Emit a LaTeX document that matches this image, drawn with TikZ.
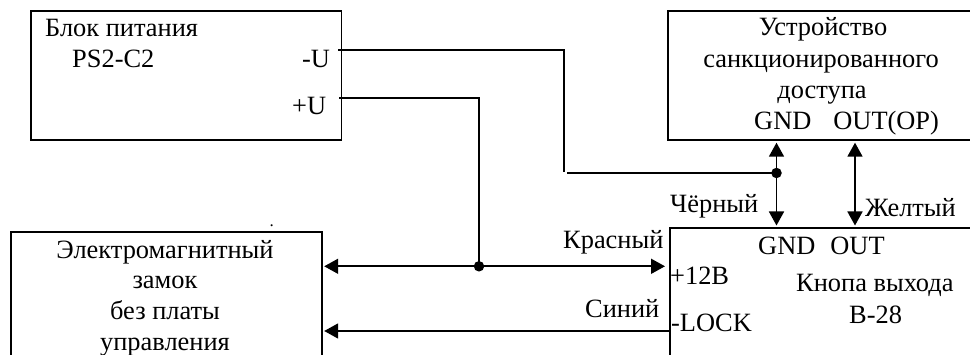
\documentclass[tikz,border=0pt]{standalone}
\usepackage{fontspec}
\setmainfont{Liberation Serif}
\usetikzlibrary{arrows.meta,calc}
\tikzset{
  box/.style={draw=black,line width=1.7pt,rectangle,inner sep=0pt,anchor=north west},
  wire/.style={draw=black,line width=1.7pt},
  tip/.style={-{Triangle[length=14pt,width=15pt]}},
  both/.style={{Triangle[length=14pt,width=15pt]}-{Triangle[length=14pt,width=15pt]}},
  junction/.style={circle,fill=black,draw=none,minimum size=10.5pt,inner sep=0pt},
  lbl/.style={font=\fontsize{26.4}{26.4}\selectfont,inner sep=0pt,anchor=base west,text=black,yshift=-1.5pt},
  clbl/.style={font=\fontsize{26.4}{26.4}\selectfont,inner sep=0pt,anchor=base,text=black,yshift=-1.5pt}
}
\begin{document}
\begin{tikzpicture}[x=1pt,y=-1pt]
\useasboundingbox (0,0) rectangle (970,355);
\clip (0,0) rectangle (970,355);
% boxes
\node[box,minimum width=310.5pt,minimum height=129pt] (psu) at (30,10) {};
\node[box,minimum width=320pt,minimum height=129pt] (dev) at (667,10) {};
\node[box,minimum width=311pt,minimum height=140pt] (lock) at (10,231) {};
\node[box,minimum width=320pt,minimum height=140pt] (btn) at (669,227.5) {};
% junctions and free ends
\node[junction] (jgnd) at (776.5,173) {};
\node[junction] (jred) at (479,266.3) {};
\coordinate (minusout) at (338,50.3);
\coordinate (plusout) at (339,98.3);
\coordinate (bendtop) at (564.3,50.3);
\coordinate (bendlow) at (564.3,172);
\coordinate (bendstart) at (567,173);
\coordinate (bendplus) at (479,98.3);
\coordinate (outx) at (855,180);
\coordinate (redy) at (480,266.3);
\coordinate (bluey) at (480,331);
% connectors
\draw[wire] (minusout) -- (bendtop) -- (bendlow);
\draw[wire] (bendstart) -- (jgnd.center);
\draw[wire] (plusout) -- (bendplus) -- (jred.center);
\draw[wire,both,shorten <=2pt,shorten >=2pt] (jgnd |- dev.south) -- (jgnd |- btn.north);
\draw[wire,both,shorten <=2pt,shorten >=2pt] (outx |- dev.south) -- (outx |- btn.north);
\draw[wire,both,shorten <=1.5pt,shorten >=4pt] (redy -| lock.east) -- (redy -| btn.west);
\draw[wire,tip,shorten >=1.5pt] (bluey -| btn.west) -- (bluey -| lock.east);
% labels
\node[lbl] (t1) at (45,35) {Блок питания};
\node[lbl] (t2) at (72,66) {PS2-C2};
\node[lbl] (t3) at (302,66) {-U};
\node[lbl] (t4) at (292,113) {+U};
\node[clbl] (t5) at (823,34) {Устройство};
\node[clbl] (t6) at (821,66) {санкционированного};
\node[clbl] (t7) at (822,97) {доступа};
\node[lbl] (t8) at (754,128) {GND\hspace{22pt}OUT(OP)};
\node[clbl] (t9) at (165,257) {Электромагнитный};
\node[clbl] (t10) at (165,287) {замок};
\node[clbl] (t11) at (165,318) {без платы};
\node[clbl] (t12) at (165,349) {управления};
\node[lbl] (t13) at (563,247) {Красный};
\node[lbl] (t14) at (670,283) {+12В};
\node[lbl] (t15) at (585,316) {Синий};
\node[lbl] (t16) at (671,330) {-LOCK};
\node[lbl] (t17) at (670,211) {Чёрный};
\node[lbl] (t18) at (865,215) {Желтый};
\node[lbl] (t19) at (758,253) {GND\hspace{15pt}OUT};
\node[lbl] (t20) at (796,290) {Кнопа выхода};
\node[lbl] (t21) at (849,322) {В-28};
\node[lbl,font=\fontsize{17}{17}\selectfont] (t22) at (269.3,225.5) {.};
\end{tikzpicture}
\end{document}
